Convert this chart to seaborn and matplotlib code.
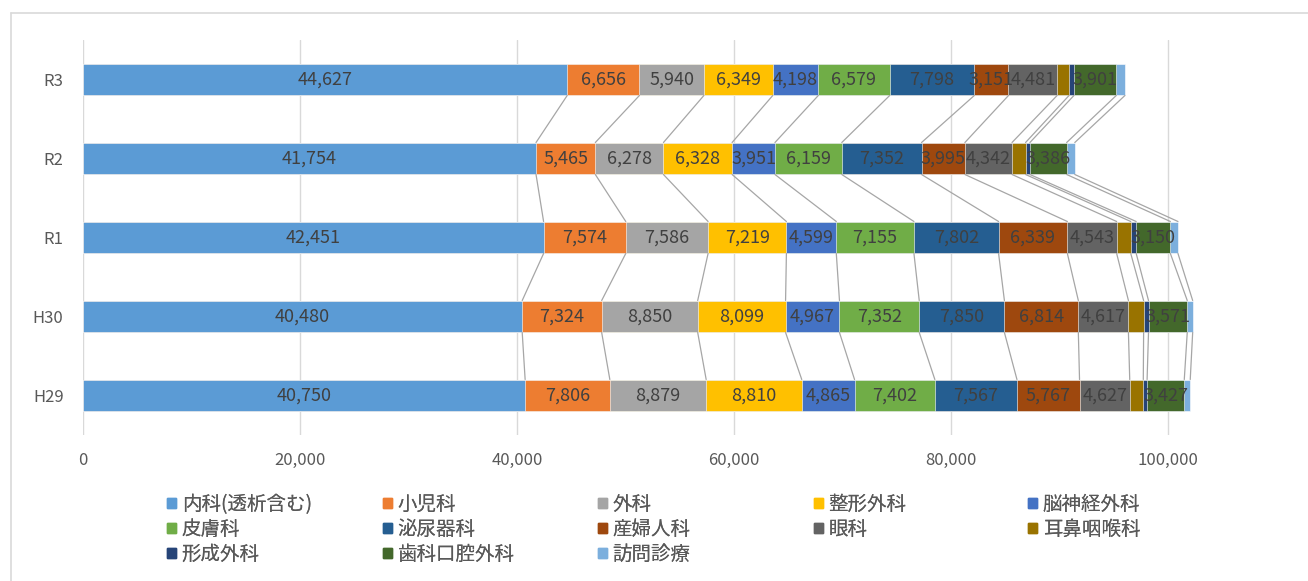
import numpy as np
import pandas as pd
import matplotlib.pyplot as plt
from matplotlib.lines import Line2D
import seaborn as sns

# Data
years = ['R3', 'R2', 'R1', 'H30', 'H29']
depts = ['内科(透析含む)', '小児科', '外科', '整形外科', '脳神経外科',
         '皮膚科', '泌尿器科', '産婦人科', '眼科', '耳鼻咽喉科',
         '形成外科', '歯科口腔外科', '訪問診療']
naika = [44627, 41754, 42451, 40480, 40750]
shonika = [6656, 5465, 7574, 7324, 7806]
geka = [5940, 6278, 7586, 8850, 8879]
seikei = [6349, 6328, 7219, 8099, 8810]
noushinkei = [4198, 3951, 4599, 4967, 4865]
hifu = [6579, 6159, 7155, 7352, 7402]
hinyoki = [7798, 7352, 7802, 7850, 7567]
sanfujin = [3151, 3995, 6339, 6814, 5767]
ganka = [4481, 4342, 4543, 4617, 4627]
jibi = [1100, 1250, 1300, 1400, 1250]
keisei = [450, 400, 500, 450, 350]
shika = [3901, 3386, 3150, 3571, 3427]
houmon = [800, 750, 700, 500, 550]
labelled = [True, True, True, True, True, True, True, True, True, False, False, True, False]

colors = ['#5B9BD5', '#ED7D31', '#A5A5A5', '#FFC000', '#4472C4',
          '#70AD47', '#255E91', '#9E480E', '#636363', '#997300',
          '#264478', '#43682B', '#7CAFDD']

values = np.array([naika, shonika, geka, seikei, noushinkei, hifu, hinyoki,
                   sanfujin, ganka, jibi, keisei, shika, houmon])
cum = values.cumsum(axis=0)

sns.set_style('white')
plt.rcParams['font.family'] = ['Noto Sans CJK JP', 'DejaVu Sans']

W, H = 1308, 581
fig = plt.figure(figsize=(W / 100, H / 100), dpi=100)
ax = fig.add_axes([83 / W, 1 - 435 / H, (1300 - 83) / W, 395 / H])

bar_w = 0.405
# stacked bars: draw cumulative totals from the last series to the first
for i in range(len(depts) - 1, -1, -1):
    df = pd.DataFrame({'year': years, 'total': cum[i]})
    sns.barplot(data=df, x='total', y='year', order=years, orient='h',
                color=colors[i], saturation=1, width=bar_w, ax=ax,
                edgecolor='white', linewidth=0.4)

# series lines between bars
for i in range(len(depts)):
    for j in range(len(years) - 1):
        ax.plot([cum[i][j], cum[i][j + 1]], [j + bar_w / 2, j + 1 - bar_w / 2],
                color='#a6a6a6', lw=0.9, zorder=1)

# data labels
for i in range(len(depts)):
    if not labelled[i]:
        continue
    for j in range(len(years)):
        ax.text(cum[i][j] - values[i][j] / 2, j, f'{values[i][j]:,}',
                ha='center', va='center', fontsize=13, color='#404040', zorder=5)

ax.set_xlim(0, (1300 - 83) / 0.01085)
ax.set_ylim(len(years) - 0.5, -0.5)
ax.set_xticks([0, 20000, 40000, 60000, 80000, 100000])
ax.set_xticklabels([f'{v:,}' for v in [0, 20000, 40000, 60000, 80000, 100000]])
ax.xaxis.grid(True, color='#d9d9d9', lw=1)
ax.set_axisbelow(True)
for s in ax.spines.values():
    s.set_visible(False)
ax.tick_params(axis='x', length=0, pad=12, labelsize=12, labelcolor='#595959')
ax.tick_params(axis='y', length=0, pad=14, labelsize=12, labelcolor='#595959')
ax.set_xlabel('')
ax.set_ylabel('')

# chart frame
fig.add_artist(Line2D([10.5 / W, 10.5 / W], [0, 1 - 12.5 / H], color='#d9d9d9', lw=1.2,
                      transform=fig.transFigure))
fig.add_artist(Line2D([10.5 / W, 1], [1 - 12.5 / H, 1 - 12.5 / H], color='#d9d9d9', lw=1.2,
                      transform=fig.transFigure))

# legend: five columns placed at fixed positions
col_x = [167, 383, 598, 814, 1028]
for c in range(5):
    idx = [k for k in range(c, len(depts), 5)]
    handles = [plt.Rectangle((0, 0), 1, 1, color=colors[k]) for k in idx]
    leg = fig.legend(handles, [depts[k] for k in idx], loc='upper left',
                     bbox_to_anchor=(col_x[c] / W, 1 - 494 / H), frameon=False,
                     fontsize=14, handlelength=0.45, handleheight=0.45,
                     handletextpad=0.3, labelspacing=0.2, borderpad=0,
                     borderaxespad=0, labelcolor='#595959')
    fig.add_artist(leg)

fig.savefig('out.png', dpi=100)
